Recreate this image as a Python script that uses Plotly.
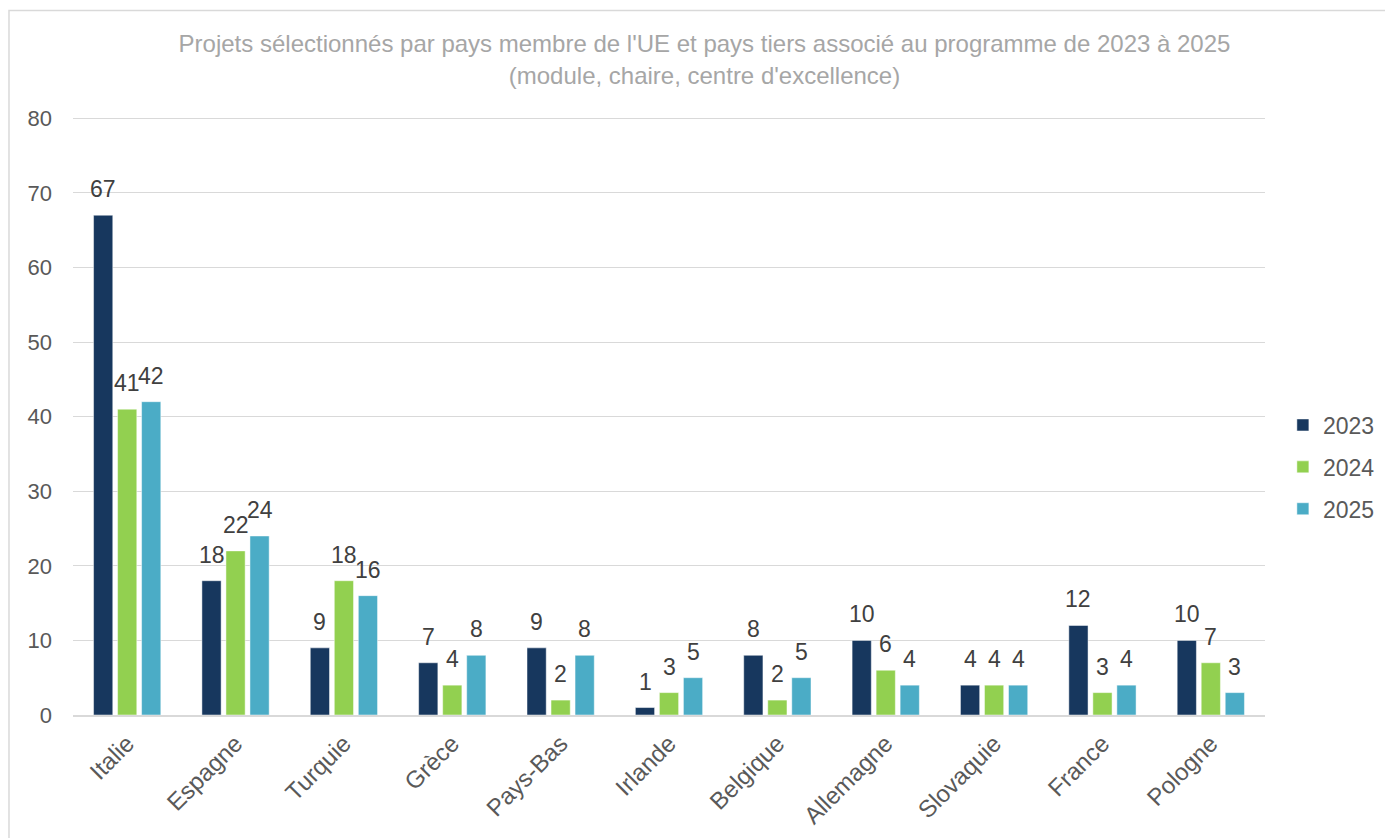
import plotly.graph_objects as go

# données
pays = ["Italie", "Espagne", "Turquie", "Grèce", "Pays-Bas", "Irlande",
        "Belgique", "Allemagne", "Slovaquie", "France", "Pologne"]
annees = ["2023", "2024", "2025"]
val_2023 = [67, 18, 9, 7, 9, 1, 8, 10, 4, 12, 10]
val_2024 = [41, 22, 18, 4, 2, 3, 2, 6, 4, 3, 7]
val_2025 = [42, 24, 16, 8, 8, 5, 5, 4, 4, 4, 3]
y_ticks = [0, 10, 20, 30, 40, 50, 60, 70, 80]

COULEURS = ["#17375E", "#92D050", "#4BACC6"]
TEXTE = "#595959"
GRILLE = "#D9D9D9"
FONT = "Liberation Sans, Arial, sans-serif"

series = [val_2023, val_2024, val_2025]

fig = go.Figure()
for i, (annee, vals) in enumerate(zip(annees, series)):
    fig.add_trace(go.Bar(
        x=pays,
        y=vals,
        name=annee,
        legendgroup=annee,
        marker=dict(color=COULEURS[i], line=dict(color="rgba(255,255,255,0.6)", width=0.8)),
        hoverinfo="x+y+name",
    ))
    # étiquettes de valeur au-dessus des barres
    for p, v in zip(pays, vals):
        fig.add_annotation(
            x=p, y=v, xref="x", yref="y",
            text=str(v),
            showarrow=False,
            xshift=(i - 1) * 24,
            yanchor="bottom",
            yshift=11,
            font=dict(size=23, color="#404040", family=FONT),
        )

fig.update_layout(
    width=1393,
    height=838,
    barmode="group",
    bargap=0.335,
    bargroupgap=0.2,
    paper_bgcolor="white",
    plot_bgcolor="white",
    font=dict(family=FONT, color=TEXTE, size=22),
    # la page ajoute 8 px de marge au body
    margin=dict(l=65, r=136, t=108, b=131),
    title=dict(
        text="Projets sélectionnés par pays membre de l'UE et pays tiers associé au programme de 2023 à 2025"
             "<br>(module, chaire, centre d'excellence)",
        x=0.5, xanchor="center",
        y=0.947, yanchor="top",
        font=dict(size=24, color="#A6A6A6", family=FONT),
    ),
    legend=dict(
        x=1.015, xanchor="left",
        y=0.414, yanchor="middle",
        font=dict(size=23, color=TEXTE, family=FONT),
        tracegroupgap=9,
        bgcolor="rgba(0,0,0,0)",
    ),
    showlegend=True,
)

fig.update_yaxes(
    range=[0, 80.3],
    tickvals=y_ticks,
    showgrid=True,
    gridcolor=GRILLE,
    gridwidth=1.3,
    zeroline=False,
    showline=False,
    ticklabelstandoff=20,
    tickfont=dict(size=22, color=TEXTE),
)
fig.update_xaxes(
    tickangle=-45,
    showline=True,
    linecolor=GRILLE,
    linewidth=2,
    ticks="",
    tickfont=dict(size=24, color=TEXTE),
    ticklabelstandoff=3,
)

# cadre gris clair (seuls les bords haut et gauche sont visibles)
fig.add_shape(
    type="rect", xref="paper", yref="paper",
    x0=-0.0537, x1=1.2, y0=-0.3, y1=1.176,
    line=dict(color="#D9D9D9", width=1.5),
    fillcolor="rgba(0,0,0,0)",
    layer="below",
)

fig.write_html("out.html")
